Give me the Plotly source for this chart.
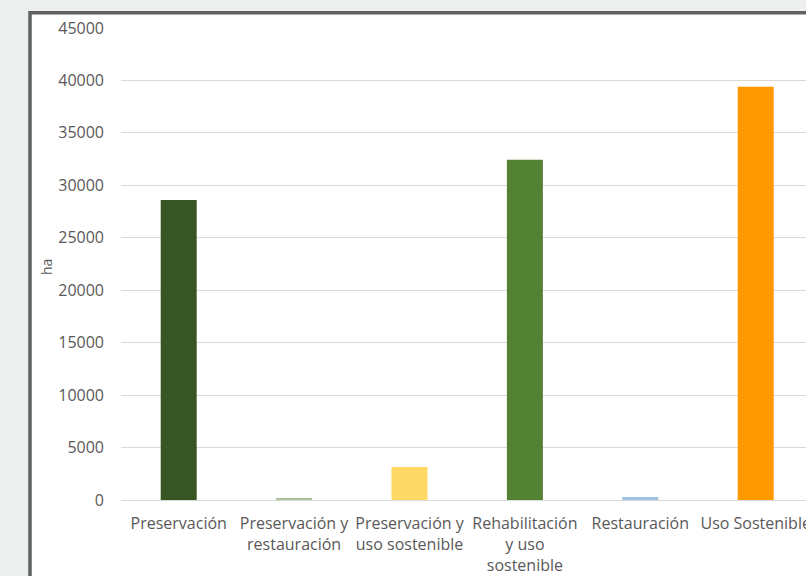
import plotly.graph_objects as go

categories = [
    "Preservación",
    "Preservación y<br>restauración",
    "Preservación y<br>uso sostenible",
    "Rehabilitación<br>y uso<br>sostenible",
    "Restauración",
    "Uso Sostenible",
]
values_ha = [28600, 140, 3150, 32450, 280, 39400]
bar_colors = ["#375623", "#a9c29a", "#ffd966", "#548235", "#9dc3e6", "#ff9900"]
y_ticks = [0, 5000, 10000, 15000, 20000, 25000, 30000, 35000, 40000, 45000]
y_tick_labels = [str(v) for v in y_ticks]

W, H = 806, 576
L, T, B = 121, 28, 76
plot_w = W - L
plot_h = H - T - B

fig = go.Figure()
fig.add_trace(go.Bar(
    x=list(range(len(categories))),
    y=values_ha,
    marker=dict(color=bar_colors, line=dict(width=0)),
    hoverinfo="skip",
))

font_family = "Open Sans, Lato, sans-serif"
txt_color = "#595959"

fig.update_layout(
    width=W, height=H,
    margin=dict(l=L, r=0, t=T, b=B, pad=0, autoexpand=False),
    paper_bgcolor="#edefee",
    plot_bgcolor="rgba(0,0,0,0)",
    bargap=0.688,
    showlegend=False,
    font=dict(family=font_family, size=16, color=txt_color),
    xaxis=dict(
        tickmode="array",
        tickvals=list(range(len(categories))),
        ticktext=categories,
        range=[-0.5, -0.5 + plot_w / 115.4],
        showgrid=False,
        zeroline=False,
        showline=False,
        ticks="",
        automargin=False,
        ticklabelstandoff=12,
        ticklabeloverflow="allow",
        tickfont=dict(size=16, color=txt_color),
    ),
    yaxis=dict(
        range=[0, 45000],
        tickmode="array",
        tickvals=y_ticks,
        ticktext=y_tick_labels,
        showgrid=True,
        gridcolor="#d9d9d9",
        gridwidth=1,
        zeroline=True,
        zerolinecolor="#d9d9d9",
        zerolinewidth=1,
        showline=False,
        ticks="",
        automargin=False,
        ticklabelstandoff=16,
        tickfont=dict(size=16, color=txt_color),
    ),
    shapes=[
        dict(
            type="rect", xref="paper", yref="paper",
            x0=(30 - L) / plot_w, x1=1.2,
            y0=-0.4, y1=(H - B - 12.7) / plot_h,
            line=dict(color="#606262", width=3.5),
            fillcolor="#ffffff",
            layer="below",
        )
    ],
    annotations=[
        dict(
            text="ha", xref="paper", yref="paper",
            x=(46 - L) / plot_w, y=(H - B - 267) / plot_h,
            showarrow=False, textangle=-90,
            font=dict(size=14, color=txt_color),
            xanchor="center", yanchor="middle",
        )
    ],
)

fig.write_html(
    "out.html",
    config={"displayModeBar": False},
    post_script="document.body.style.margin='0';document.body.style.overflow='hidden';document.body.style.background='#edefee';",
)
